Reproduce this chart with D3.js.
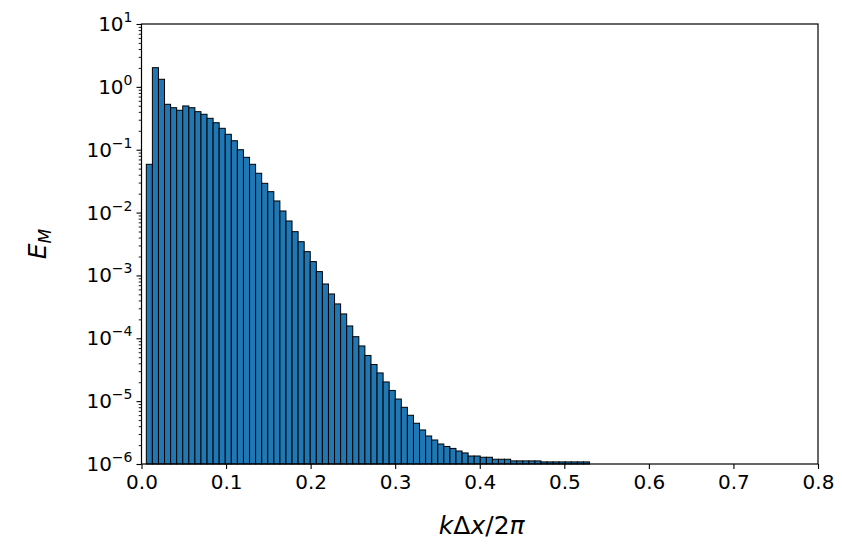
<!DOCTYPE html>
<html><head><meta charset="utf-8">
<script src="https://cdn.jsdelivr.net/npm/d3@7"></script>
<style>
html,body{margin:0;padding:0;background:#fff;}
svg{display:block;font-family:"DejaVu Sans",sans-serif;}
</style></head>
<body><svg id="chart" width="842" height="544"></svg>
<script>
// Histogram bins (left edge of first bin and bin width in k*dx/2pi units)
const binStart = 0.0057;
const binWidth = 0.00718;
// Spectral energy E_M per bin
const energy = [
  0.0586, 2.02, 1.32, 0.528, 0.466, 0.424, 0.497, 0.466, 0.403, 0.366,
  0.316, 0.269, 0.219, 0.176, 0.139, 0.100, 0.0757, 0.0586, 0.0422, 0.0292,
  0.0215, 0.0153, 0.0106, 0.00735, 0.00497, 0.00344, 0.00239, 0.00166, 0.00115, 7.31e-4,
  5.07e-4, 3.52e-4, 2.44e-4, 1.57e-4, 1.06e-4, 7.55e-5, 5.33e-5, 3.83e-5, 2.81e-5, 2.02e-5,
  1.48e-5, 1.08e-5, 7.98e-6, 5.96e-6, 4.45e-6, 3.48e-6, 2.79e-6, 2.41e-6, 2.08e-6, 1.90e-6,
  1.77e-6, 1.61e-6, 1.50e-6, 1.34e-6, 1.34e-6, 1.28e-6, 1.28e-6, 1.19e-6, 1.19e-6, 1.19e-6,
  1.12e-6, 1.12e-6, 1.12e-6, 1.12e-6, 1.12e-6, 1.08e-6, 1.08e-6, 1.08e-6, 1.08e-6, 1.08e-6,
  1.08e-6, 1.08e-6, 1.08e-6
];
const xTicks = [0.0, 0.1, 0.2, 0.3, 0.4, 0.5, 0.6, 0.7, 0.8];
const xTickLabels = ["0.0","0.1","0.2","0.3","0.4","0.5","0.6","0.7","0.8"];
const yExponents = [-6, -5, -4, -3, -2, -1, 0, 1];
// x label pieces: [text, italic?]
const xLabelParts = [["k", true], ["Δ", false], ["x", true], ["/2", false], ["π", true]];

const svg = d3.select("#chart");
const L = 141.5, R = 818, T = 24, B = 464;
const x = d3.scaleLinear().domain([0, 0.8]).range([L, R]);
const y = d3.scaleLog().domain([1e-6, 10]).range([B, T]);

const bins = energy.map((v, i) => ({x0: binStart + i * binWidth, x1: binStart + (i + 1) * binWidth, v}));

svg.append("g").selectAll("rect").data(bins).join("rect")
  .attr("x", d => x(d.x0))
  .attr("width", d => x(d.x1) - x(d.x0))
  .attr("y", d => y(d.v))
  .attr("height", d => B - y(d.v))
  .attr("fill", "#1f77b4")
  .attr("stroke", "#000")
  .attr("stroke-width", 1);

// Frame
svg.append("rect").attr("x", L).attr("y", T).attr("width", R - L).attr("height", B - T)
  .attr("fill", "none").attr("stroke", "#000").attr("stroke-width", 1.2);

// X axis
const xAxis = d3.axisBottom(x).tickValues(xTicks).tickSize(5).tickPadding(6)
  .tickFormat((d, i) => xTickLabels[i]);
const gx = svg.append("g").attr("transform", `translate(0,${B})`).call(xAxis);
gx.select(".domain").remove();
gx.selectAll("line").attr("stroke", "#000").attr("stroke-width", 1.1);
gx.selectAll("text").attr("font-size", 20).attr("font-family", "DejaVu Sans").attr("fill", "#000");

// Y axis major
const majors = yExponents.map(e => Math.pow(10, e));
const yAxis = d3.axisLeft(y).tickValues(majors).tickSize(5).tickFormat("");
const gy = svg.append("g").attr("transform", `translate(${L},0)`).call(yAxis);
gy.select(".domain").remove();
gy.selectAll("line").attr("stroke", "#000").attr("stroke-width", 1.1);
// Y minor
const minors = [];
yExponents.slice(0, -1).forEach(e => { for (let m = 2; m <= 9; m++) minors.push(m * Math.pow(10, e)); });
const gym = svg.append("g").attr("transform", `translate(${L},0)`)
  .call(d3.axisLeft(y).tickValues(minors).tickSize(2.8).tickFormat(""));
gym.select(".domain").remove();
gym.selectAll("line").attr("stroke", "#000").attr("stroke-width", 0.9);

// Y tick labels with superscripts
const lab = svg.append("g");
yExponents.forEach(e => {
  const t = lab.append("text")
    .attr("x", L - 9).attr("y", y(Math.pow(10, e)) + 7)
    .attr("text-anchor", "end").attr("font-size", 20).attr("fill", "#000");
  t.append("tspan").text("10");
  t.append("tspan").attr("dy", -9).attr("font-size", 14).text(e < 0 ? "\u2212" + Math.abs(e) : String(e));
});

// Axis labels
const xl = svg.append("text").attr("x", (L + R) / 2 + 2).attr("y", 534).attr("text-anchor", "middle")
  .attr("font-size", 25).attr("fill", "#000");
xLabelParts.forEach(([s, it]) => xl.append("tspan").attr("font-style", it ? "italic" : "normal").text(s));
const yl = svg.append("text").attr("transform", `translate(46,${(T + B) / 2}) rotate(-90)`)
  .attr("text-anchor", "middle").attr("font-size", 25).attr("font-style", "italic").attr("fill", "#000");
yl.append("tspan").text("E");
yl.append("tspan").attr("dy", 5).attr("font-size", 17).text("M");
</script></body></html>
